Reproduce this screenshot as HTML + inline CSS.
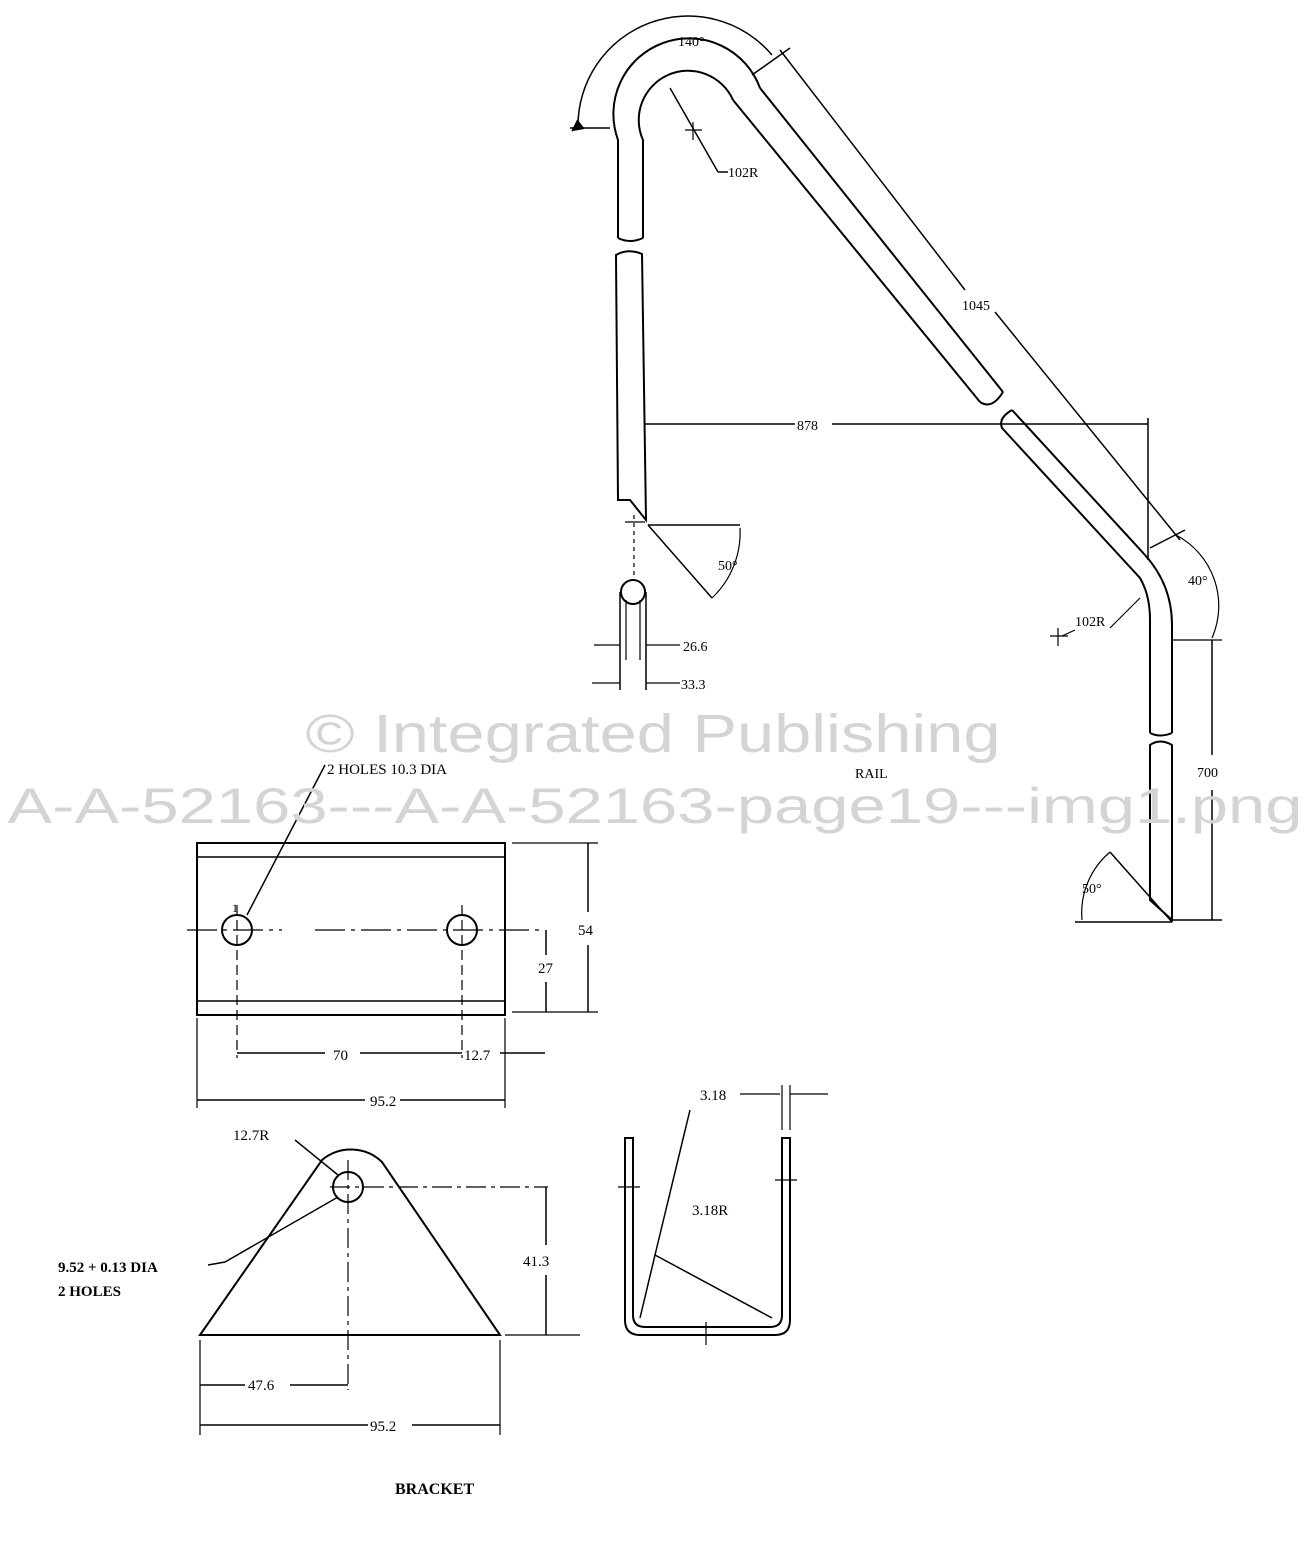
<!DOCTYPE html>
<html><head><meta charset="utf-8"><style>
html,body{margin:0;padding:0;background:#fff;}
svg{display:block;}
text{font-family:"Liberation Serif",serif;fill:#000;}
.wm{font-family:"Liberation Sans",sans-serif;fill:#d4d4d4;}
</style></head><body>
<svg width="1310" height="1541" viewBox="0 0 1310 1541" xmlns="http://www.w3.org/2000/svg">
<g fill="none" stroke="#000" stroke-width="2">
<path d="M618,238 L618,140 A72,72 0 0 1 760,88"/>
<path d="M643,238 L643,140 A47,47 0 0 1 733,100"/>
<path d="M618,238 Q630,244 643,238"/>
<path d="M616,255 Q628,248 642,254 L646,520 L630,500 L618,500 Z"/>
<path d="M760,88 L1003,392"/>
<path d="M733,100 L980,402"/>
<path d="M980,402 Q992,410 1003,392"/>
<path d="M1012,410 Q998,418 1002,428 L1140,578 Q1150,595 1150,620 L1150,733"/>
<path d="M1012,410 L1145,555 Q1172,585 1172,625 L1172,733"/>
<path d="M1150,733 Q1160,738 1172,733"/>
<path d="M1150,745 Q1160,738 1172,745 L1172,920 L1150,900 Z"/>
<path d="M578,128 A110,110 0 0 1 772,55" stroke-width="1.5"/>
<path d="M578,120 L573,130 L584,128" fill="#000"/>
<line x1="570" y1="128" x2="610" y2="128" stroke-width="1.5"/>
<line x1="752" y1="75" x2="790" y2="48" stroke-width="1.5"/>
<line x1="780" y1="50" x2="965" y2="290" stroke-width="1.5"/>
<line x1="995" y1="312" x2="1180" y2="540" stroke-width="1.5"/>
<line x1="670" y1="88" x2="718" y2="172" stroke-width="1.5"/>
<line x1="718" y1="172" x2="728" y2="172" stroke-width="1.5"/>
<line x1="685" y1="130" x2="702" y2="130" stroke-width="1.2"/><line x1="693" y1="122" x2="693" y2="140" stroke-width="1.2"/>
<line x1="645" y1="424" x2="795" y2="424" stroke-width="1.5"/>
<line x1="832" y1="424" x2="1148" y2="424" stroke-width="1.5"/>
<line x1="1148" y1="418" x2="1148" y2="560" stroke-width="1.5"/>
<path d="M648,525 L740,525 M648,525 L712,598" stroke-width="1.5"/>
<path d="M740,528 A90,90 0 0 1 712,598" stroke-width="1.2"/>
<line x1="625" y1="522" x2="645" y2="522" stroke-width="1.2"/>
<line x1="634" y1="515" x2="634" y2="580" stroke-width="1.2" stroke-dasharray="4,4"/>
<circle cx="633" cy="592" r="12"/>
<path d="M620,592 L620,690 M646,592 L646,690" stroke-width="1.5"/>
<path d="M626,600 L626,660 M640,600 L640,660" stroke-width="1.2"/>
<path d="M594,645 L620,645 M646,645 L680,645 M592,683 L620,683 M646,683 L680,683" stroke-width="1.2"/>
<path d="M1150,548 L1185,530" stroke-width="1.5"/>
<path d="M1176,535 A80,80 0 0 1 1212,638" stroke-width="1.2"/>
<line x1="1172" y1="640" x2="1222" y2="640" stroke-width="1.2"/>
<path d="M1062,636 L1075,630 M1110,628 L1140,598" stroke-width="1.2"/>
<line x1="1050" y1="636" x2="1068" y2="636" stroke-width="1.2"/><line x1="1058" y1="628" x2="1058" y2="646" stroke-width="1.2"/>
<line x1="1212" y1="640" x2="1212" y2="755" stroke-width="1.5"/>
<line x1="1212" y1="790" x2="1212" y2="920" stroke-width="1.5"/>
<line x1="1172" y1="920" x2="1222" y2="920" stroke-width="1.5"/>
<path d="M1075,922 L1172,922 M1172,922 L1110,852" stroke-width="1.5"/>
<path d="M1110,852 A80,80 0 0 0 1082,920" stroke-width="1.2"/>

<rect x="197" y="843" width="308" height="172" stroke-width="2"/>
<line x1="197" y1="857" x2="505" y2="857" stroke-width="1.5"/>
<line x1="197" y1="1001" x2="505" y2="1001" stroke-width="1.5"/>
<circle cx="237" cy="930" r="15"/>
<circle cx="462" cy="930" r="15"/>
<path d="M187,930 L282,930 M315,930 L540,930" stroke-width="1.2" stroke-dasharray="30,6,4,6"/>
<path d="M237,905 L237,1058 M462,905 L462,1058" stroke-width="1.2" stroke-dasharray="10,5"/>
<line x1="325" y1="765" x2="247" y2="915" stroke-width="1.5"/>
<path d="M512,843 L598,843 M512,1012 L598,1012" stroke-width="1.2"/>
<line x1="588" y1="843" x2="588" y2="912" stroke-width="1.5"/><line x1="588" y1="945" x2="588" y2="1012" stroke-width="1.5"/>
<line x1="546" y1="930" x2="546" y2="955" stroke-width="1.5"/><line x1="546" y1="982" x2="546" y2="1012" stroke-width="1.5"/>
<path d="M237,1053 L325,1053 M360,1053 L462,1053 M500,1053 L545,1053" stroke-width="1.5"/>
<path d="M197,1018 L197,1108 M505,1018 L505,1108" stroke-width="1.2"/>
<path d="M197,1100 L365,1100 M400,1100 L505,1100" stroke-width="1.5"/>

<path d="M200,1335 L322,1160 A45,45 0 0 1 382,1162 L500,1335 Z" stroke-width="2"/>
<circle cx="348" cy="1187" r="15"/>
<path d="M330,1187 L548,1187" stroke-width="1.2" stroke-dasharray="20,5,4,5"/>
<line x1="348" y1="1160" x2="348" y2="1390" stroke-width="1.2" stroke-dasharray="20,5,4,5"/>
<path d="M295,1140 L338,1175 M338,1197 L225,1262 L208,1265" stroke-width="1.5"/>
<path d="M505,1335 L580,1335" stroke-width="1.2"/>
<line x1="546" y1="1187" x2="546" y2="1245" stroke-width="1.5"/><line x1="546" y1="1275" x2="546" y2="1335" stroke-width="1.5"/>
<path d="M200,1340 L200,1435 M500,1340 L500,1435" stroke-width="1.2"/>
<path d="M200,1385 L245,1385 M290,1385 L348,1385" stroke-width="1.5"/>
<path d="M200,1425 L368,1425 M412,1425 L500,1425" stroke-width="1.5"/>

<path d="M625,1138 L625,1320 Q625,1335 640,1335 L775,1335 Q790,1335 790,1320 L790,1138 L782,1138 L782,1315 Q782,1327 770,1327 L645,1327 Q633,1327 633,1315 L633,1138 Z" stroke-width="2"/>
<path d="M690,1110 L655,1255 L640,1318 M655,1255 L772,1318" stroke-width="1.5"/>
<path d="M740,1094 L780,1094 M790,1094 L828,1094 M782,1085 L782,1130 M790,1085 L790,1130" stroke-width="1.2"/>
<path d="M618,1187 L640,1187 M775,1180 L797,1180 M706,1322 L706,1345" stroke-width="1.2"/>
</g>
<text x="678" y="46" style="font-size:14px">140°</text>
<text x="728" y="177" style="font-size:14px">102R</text>
<text x="962" y="310" style="font-size:14px">1045</text>
<text x="797" y="430" style="font-size:14px">878</text>
<text x="718" y="570" style="font-size:14px">50°</text>
<text x="1188" y="585" style="font-size:14px">40°</text>
<text x="1075" y="626" style="font-size:14px">102R</text>
<text x="683" y="651" style="font-size:14px">26.6</text>
<text x="681" y="689" style="font-size:14px">33.3</text>
<text x="855" y="778" style="font-size:14px">RAIL</text>
<text x="1197" y="777" style="font-size:14px">700</text>
<text x="1082" y="893" style="font-size:14px">50°</text>
<text x="327" y="774" style="font-size:15px">2 HOLES 10.3 DIA</text>
<text x="232" y="912" style="font-size:12px">1</text>
<text x="578" y="935" style="font-size:15px">54</text>
<text x="538" y="973" style="font-size:15px">27</text>
<text x="333" y="1060" style="font-size:15px">70</text>
<text x="464" y="1060" style="font-size:15px">12.7</text>
<text x="370" y="1106" style="font-size:15px">95.2</text>
<text x="233" y="1140" style="font-size:15px">12.7R</text>
<text x="58" y="1272" style="font-size:15px;font-weight:bold">9.52 + 0.13 DIA</text>
<text x="58" y="1296" style="font-size:15px;font-weight:bold">2 HOLES</text>
<text x="523" y="1266" style="font-size:15px">41.3</text>
<text x="248" y="1390" style="font-size:15px">47.6</text>
<text x="370" y="1431" style="font-size:15px">95.2</text>
<text x="395" y="1494" style="font-size:16px;font-weight:bold">BRACKET</text>
<text x="700" y="1100" style="font-size:15px">3.18</text>
<text x="692" y="1215" style="font-size:15px">3.18R</text>
<text class="wm" x="653" y="752" style="font-size:54px" text-anchor="middle" textLength="695" lengthAdjust="spacingAndGlyphs">© Integrated Publishing</text>
<text class="wm" x="655" y="823" style="font-size:50px" text-anchor="middle" textLength="1295" lengthAdjust="spacingAndGlyphs">A-A-52163---A-A-52163-page19---img1.png</text>
</svg>
</body></html>
